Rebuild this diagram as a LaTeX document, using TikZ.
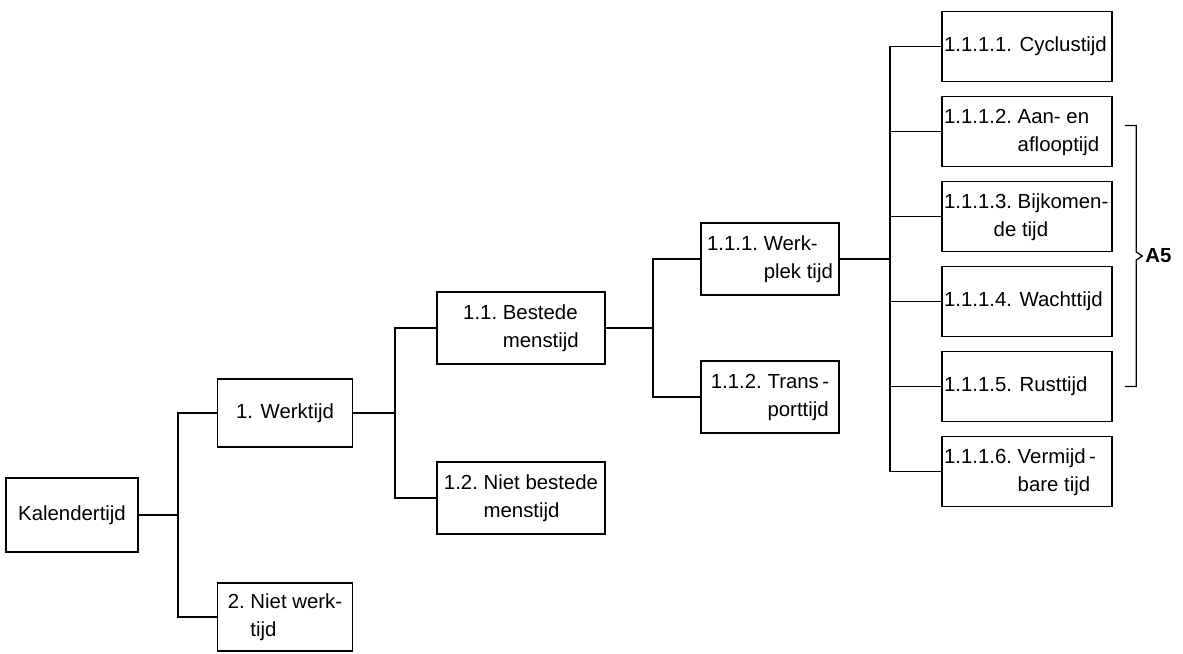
\documentclass[tikz,border=0pt]{standalone}
\usepackage{fontspec}
\setmainfont{Liberation Sans}
\usetikzlibrary{trees, calc}

% number in front, rest of the text hangs under the first word
\newcommand{\twoline}[3]{\begin{tabular}{@{}l@{\ }l@{}}#1&#2\\&#3\end{tabular}}
\renewcommand{\arraystretch}{1.15}

\begin{document}
\begin{tikzpicture}[grow'=right,
		box/.style={draw, line width=1.3pt, inner sep=1pt, font=\fontsize{14.5}{17.4}\selectfont}, % boxes of the tree
		edge from parent/.style={draw, line width=1.3pt, -},
		edge from parent path={(\tikzparentnode.east) -| ($(\tikzparentnode.east)!.5!(\tikzchildnode.west)$) |- (\tikzchildnode.west)},
		level 1/.style={level distance=5.325cm, sibling distance=5.1cm, nodes={box, minimum width=3.375cm, minimum height=1.7cm}},
		level 2/.style={level distance=5.9cm, sibling distance=4.25cm, nodes={box, minimum width=4.18cm, minimum height=1.8cm}},
		level 3/.style={level distance=6.225cm, sibling distance=3.45cm, nodes={box, minimum width=3.45cm, minimum height=1.8cm}},
		level 4/.style={level distance=6.425cm, sibling distance=2.125cm, nodes={box, text width=118pt, inner xsep=1.6pt, align=flush left, minimum height=1.75cm}}
		]
		\useasboundingbox (0,0) rectangle (29.575,-16.325);
		% Root node
		\node[box, minimum width=3.3cm, minimum height=1.83cm] (kal) at (1.8,-12.875) {Kalendertijd}
		% Werktijd and its parts
		child { node (wt) {1. Werktijd}
			child { node (bm) {\twoline{1.1.}{Bestede}{menstijd}}
				child { node (wp) {\twoline{1.1.1.}{Werk-}{plek tijd}}
					child { node (a1) {\mbox{1.1.1.1. Cyclustijd}} }
					child { node (a2) {\twoline{1.1.1.2.}{Aan- en}{aflooptijd}} }
					child { node (a3) {\twoline{1.1.1.3.}{Bijkomen-}{\hspace*{-0.6cm}de tijd}} }
					child { node (a4) {\mbox{1.1.1.4. Wachttijd}} }
					child { node (a5) {\mbox{1.1.1.5. Rusttijd}} }
					child { node (a6) {\twoline{1.1.1.6.}{Vermijd\,-}{bare tijd}} }
				}
				child { node (tp) {\twoline{1.1.2.}{Trans\,-}{porttijd}} }
			}
			child { node (nbm) {\twoline{1.2.}{Niet bestede}{menstijd}} }
		}
		child { node (nwt) {\twoline{2.}{Niet werk-}{tijd}} }
		;
		% bracket for A5
		\coordinate (bt) at ($(a2.east)+(0.3,0.15)$);
		\coordinate (bb) at ($(a5.east)+(0.3,0)$);
		\coordinate (tip) at ($(bt)!.5!(bb)+(0.43,0)$);
		\draw[line width=0.9pt] (bt) -- ++(0.28,0) |- ($(tip)+(-0.15,0.1)$) -- (tip) -- ++(-0.15,-0.1) |- (bb);
		\node[right, inner sep=2pt, font=\fontsize{14.5}{17.4}\selectfont\bfseries] (lblA) at (tip) {A5};
	\end{tikzpicture}
\end{document}
